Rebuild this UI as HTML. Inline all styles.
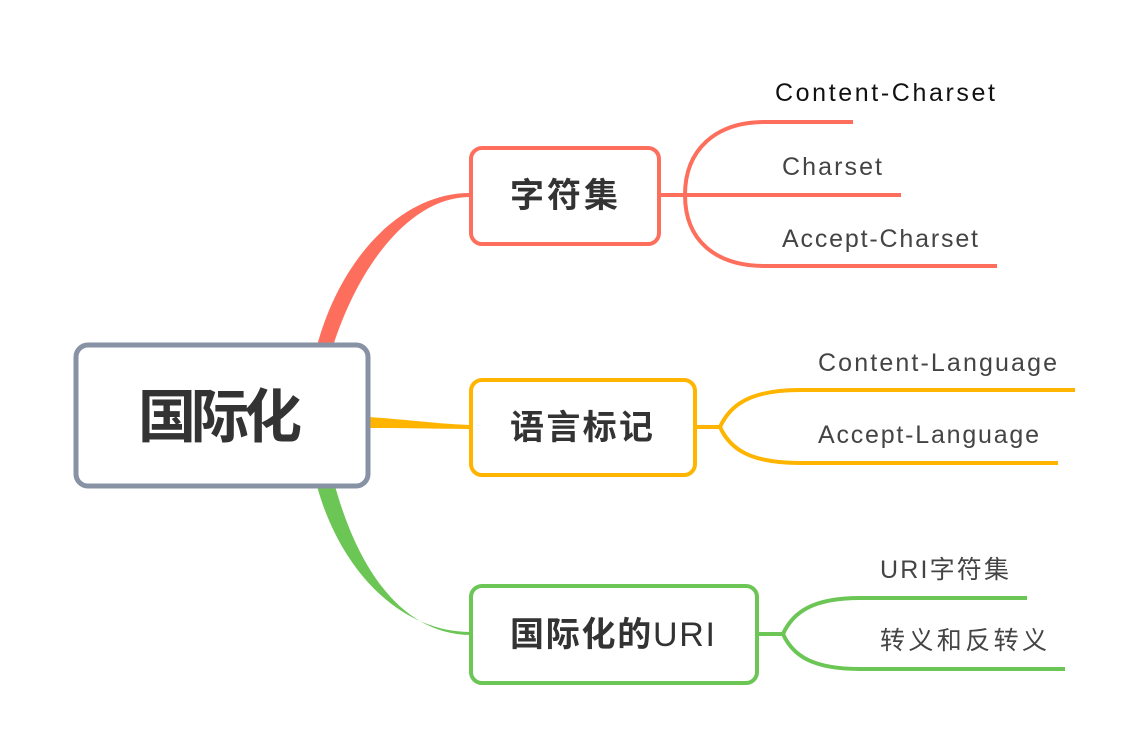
<!DOCTYPE html>
<html><head><meta charset="utf-8"><style>
body{margin:0;background:#fff}
svg{display:block}
text{font-family:"Liberation Sans","Noto Sans CJK SC",sans-serif}
.l{font-size:25px;fill:#444}
.b{font-weight:bold;fill:#333}
</style></head><body>
<svg width="1147" height="755" viewBox="0 0 1147 755" xmlns="http://www.w3.org/2000/svg">
<!-- main branches -->
<path d="M317,346 C340,260 400,193 470,193 L470,197 C412,197 360,262 333,346 Z" fill="#fd6f5c"/>
<path d="M369,417 C410,420 440,424 470,425 L470,429 C440,429 410,428 369,428 Z" fill="#ffb500"/>
<path d="M317,486 C340,570 400,632 470,632 L470,635 C405,634 360,575 335,486 Z" fill="#6cc656"/>
<!-- red children -->
<g fill="none" stroke="#fd6f5c" stroke-width="4">
<path d="M660,195 H685 M685,195 C685,150 715,122 765,122 H853 M685,195 H901 M685,195 C685,240 715,266 765,266 H997"/>
</g>
<g fill="none" stroke="#ffb500" stroke-width="4">
<path d="M696,427 H720 C730,405 750,390 800,390 H1075 M720,427 C730,449 750,463 800,463 H1058"/>
</g>
<g fill="none" stroke="#6cc656" stroke-width="4">
<path d="M758,634 H783 C793,612 813,598 860,598 H1027 M783,634 C793,656 813,669 860,669 H1065"/>
</g>
<!-- boxes -->
<rect x="76" y="345" width="292" height="141" rx="12" fill="#fff" stroke="#8793a5" stroke-width="5"/>
<text x="138" y="437" font-size="58" class="b" textLength="164">国际化</text>
<rect x="471" y="148" width="188" height="96" rx="11" fill="#fff" stroke="#fd6f5c" stroke-width="4"/>
<text x="510" y="207" font-size="34" class="b" textLength="108">字符集</text>
<rect x="471" y="380" width="224" height="95" rx="11" fill="#fff" stroke="#ffb500" stroke-width="4"/>
<text x="510" y="439" font-size="34" class="b" textLength="143">语言标记</text>
<rect x="471" y="586" width="286" height="97" rx="11" fill="#fff" stroke="#6cc656" stroke-width="4"/>
<text x="510" y="646" font-size="34" class="b" textLength="205">国际化的<tspan font-weight="normal">URI</tspan></text>
<!-- leaf labels -->
<text x="775" y="101" class="l" style="fill:#111" textLength="220">Content-Charset</text>
<text x="782" y="175" class="l" textLength="100">Charset</text>
<text x="782" y="247" class="l" textLength="196">Accept-Charset</text>
<text x="818" y="371" class="l" textLength="239">Content-Language</text>
<text x="818" y="443" class="l" textLength="221">Accept-Language</text>
<text x="880" y="578" class="l" textLength="129">URI字符集</text>
<text x="880" y="649" class="l" textLength="167">转义和反转义</text>
</svg>
</body></html>
